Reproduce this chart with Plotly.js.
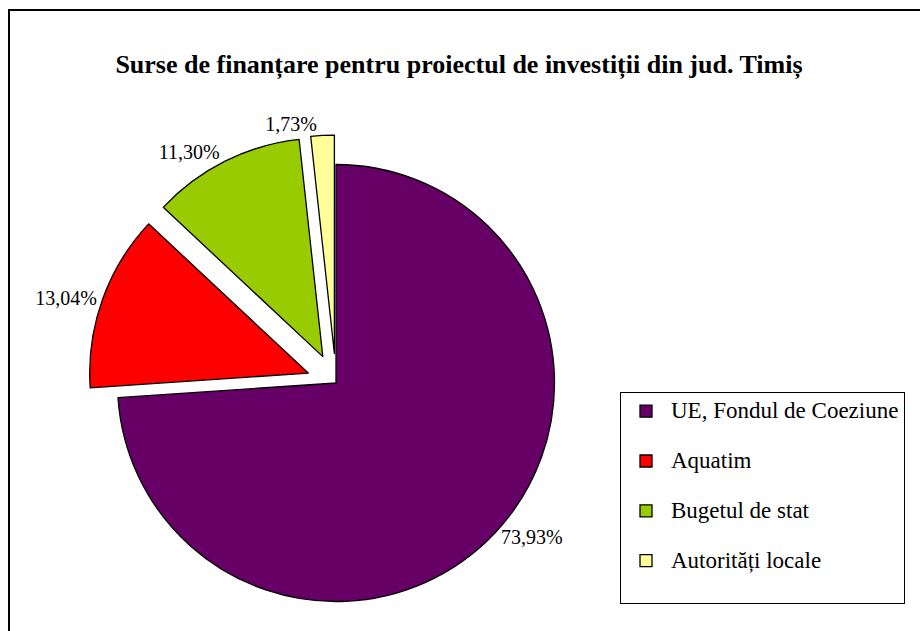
<!DOCTYPE html>
<html>
<head>
<meta charset="utf-8">
<script src="https://cdn.plot.ly/plotly-3.0.1.min.js"></script>
<style>html,body{margin:0;padding:0;background:#fff;}#chart{width:920px;height:631px;}</style>
</head>
<body>
<div id="chart"></div>
<script>
const categories = ["UE, Fondul de Coeziune", "Aquatim", "Bugetul de stat", "Autorități locale"];
const shares = [73.93, 13.04, 11.30, 1.73];
const colors = ["#660066", "#FF0000", "#99CC00", "#FFFF99"];
const pulls = [0, 0.135, 0.135, 0.135];

const W = 920, H = 631;
const FONT = 'Liberation Serif';
const percentText = shares.map(v => v.toFixed(2).replace('.', ',') + '%');
// legend labels: larger glyphs, extra blank line to reproduce the wide item spacing
const legendLabels = categories.map(c => '<span style="font-size:23px">' + c + '</span><br> ');

const cx = 336, cy = 383, half = 248;

const trace = {
  type: 'pie',
  labels: legendLabels,
  values: shares,
  text: percentText,
  textinfo: 'text',
  textposition: 'outside',
  sort: false,
  direction: 'clockwise',
  rotation: 0,
  pull: pulls,
  marker: { colors: colors, line: { color: '#000000', width: 1.3 } },
  outsidetextfont: { family: FONT, size: 20, color: '#000' },
  hoverinfo: 'none',
  domain: { x: [(cx - half) / W, (cx + half) / W], y: [0, 2 * (H - cy) / H] }
};

const layout = {
  width: W, height: H,
  margin: { l: 0, r: 0, t: 0, b: 0 },
  paper_bgcolor: '#ffffff',
  font: { family: FONT, color: '#000' },
  title: {
    text: '<b>Surse de finanțare pentru proiectul de investiții din jud. Timiș</b>',
    font: { family: FONT, size: 26, color: '#000' },
    x: 459 / W, xref: 'container', xanchor: 'center',
    y: 1 - 64 / H, yref: 'container', yanchor: 'middle'
  },
  showlegend: true,
  legend: {
    x: 620 / W, xanchor: 'left',
    y: 1 - 392 / H, yanchor: 'top',
    bordercolor: '#000', borderwidth: 1, bgcolor: '#fff',
    font: { family: FONT, size: 18, color: '#000' },
    itemwidth: 40,
    valign: 'top', traceorder: 'normal'
  },
  shapes: [{
    type: 'rect', xref: 'paper', yref: 'paper',
    x0: 9 / W, x1: 1.05, y0: -0.05, y1: 1 - 10 / H,
    line: { color: '#000', width: 2 }, fillcolor: 'rgba(0,0,0,0)', layer: 'below'
  }]
};

Plotly.newPlot('chart', [trace], layout, { displayModeBar: false, staticPlot: true });
</script>
</body>
</html>
